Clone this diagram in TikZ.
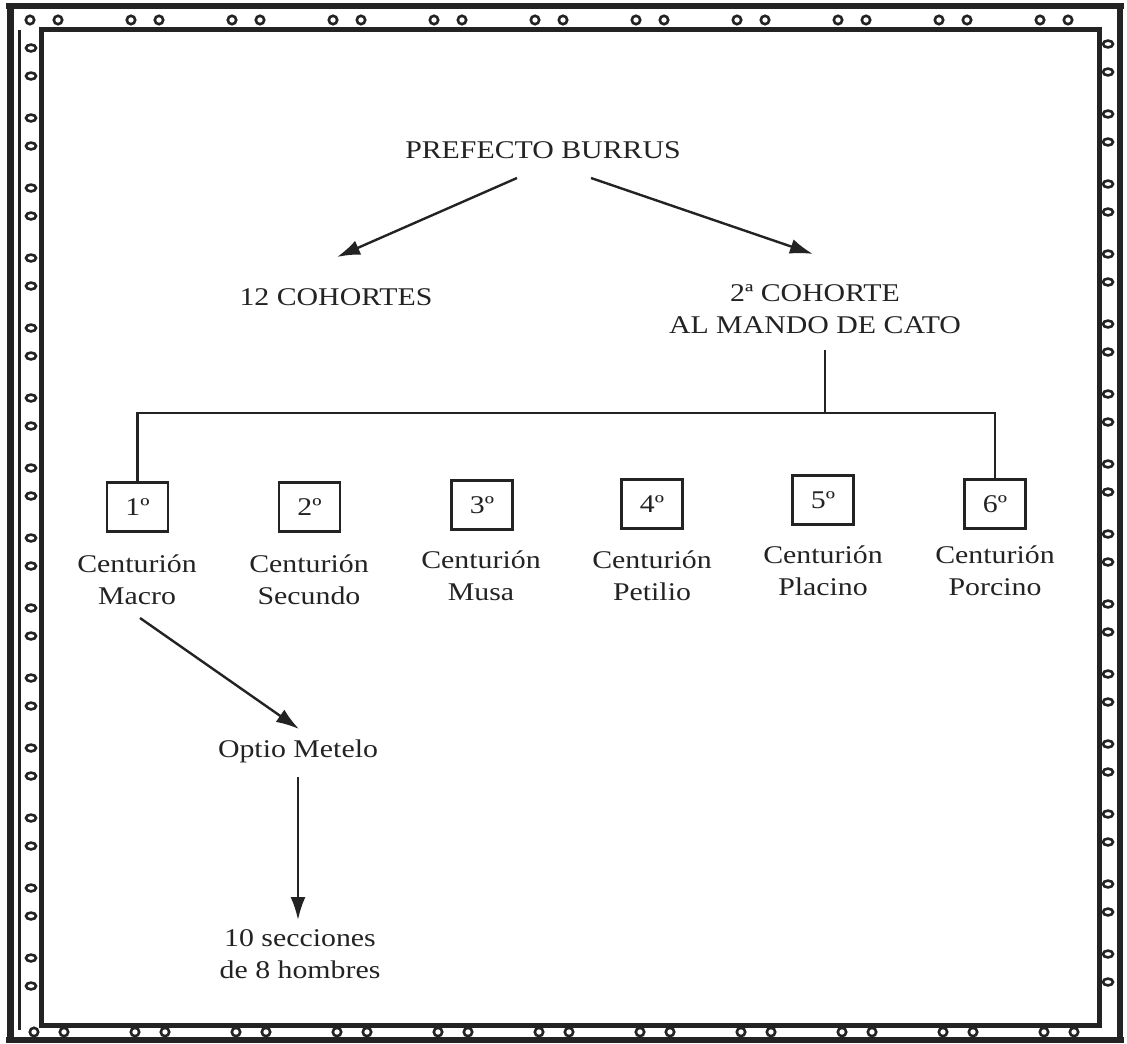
\documentclass[tikz,border=0pt]{standalone}
\usepackage{fontspec}
\setmainfont[FakeStretch=1.17]{Liberation Serif}
\usetikzlibrary{arrows.meta}
\definecolor{ink}{HTML}{232323}
\begin{document}
\begin{tikzpicture}[x=1pt,y=-1pt,
  lbl/.style={font=\fontsize{25.5}{32}\selectfont, text=ink, align=center, inner sep=0pt},
  numbox/.style={draw=ink, line width=2.2pt, minimum width=61pt, minimum height=49pt, inner sep=0pt, font=\fontsize{25.5}{30}\selectfont, text=ink},
  conn/.style={draw=ink, line width=2.4pt},
  arr/.style={conn, -{Latex[length=23pt,width=15pt]}},
  ring/.style={draw=ink, line width=2.6pt},
  framein/.style={draw=ink, line width=5pt},
  frameout/.style={draw=ink, line width=5.5pt}]
\useasboundingbox[fill=white] (0,0) rectangle (1127,1044);

% ---- decorative frame ----
\draw[framein] (41,29) rectangle (1099,1025);
\draw[frameout] (6,6) -- (1124,6);
\draw[frameout] (6,1040) -- (1124,1040);
\draw[draw=ink, line width=7pt] (10,6) -- (10,1040);
\draw[draw=ink, line width=3pt] (19,30) -- (19,1030);
\draw[draw=ink, line width=6pt] (1120,6) -- (1120,1040);
\foreach \i in {0,...,10}{
  \draw[ring] ({30+101*\i},20) circle[radius=4.2pt];
  \draw[ring] ({58+101*\i},20) circle[radius=4.2pt];
}
\foreach \i in {0,...,10}{
  \draw[ring] ({34+101*\i},1032) circle[radius=4.2pt];
  \draw[ring] ({64+101*\i},1032) circle[radius=4.2pt];
}
\foreach \i in {0,...,13}{
  \draw[ring] (31,{48+70*\i}) ellipse[x radius=5pt, y radius=3.4pt];
  \draw[ring] (31,{76+70*\i}) ellipse[x radius=5pt, y radius=3.4pt];
}
\foreach \i in {0,...,13}{
  \draw[ring] (1108,{44+70*\i}) ellipse[x radius=5pt, y radius=3.4pt];
  \draw[ring] (1108,{72+70*\i}) ellipse[x radius=5pt, y radius=3.4pt];
}

% ---- nodes ----
\node[lbl] (burrus) at (543,150) {PREFECTO BURRUS};
\node[lbl] (coh12) at (336,297) {12 COHORTES};
\node[lbl] (cato) at (815,309) {2ª COHORTE\\AL MANDO DE CATO};

\node[numbox] (b1) at (137.5,507) {1º};
\node[numbox] (b2) at (309.5,507) {2º};
\node[numbox] (b3) at (482,505) {3º};
\node[numbox] (b4) at (652,504) {4º};
\node[numbox] (b5) at (823,500) {5º};
\node[numbox] (b6) at (995,504) {6º};

\node[lbl] (c1) at (137,580) {Centurión\\Macro};
\node[lbl] (c2) at (309,580) {Centurión\\Secundo};
\node[lbl] (c3) at (481,576) {Centurión\\Musa};
\node[lbl] (c4) at (652,576) {Centurión\\Petilio};
\node[lbl] (c5) at (823,571) {Centurión\\Placino};
\node[lbl] (c6) at (995,571) {Centurión\\Porcino};

\node[lbl] (optio) at (298,751) {Optio Metelo};
\node[lbl] (secc) at (300,954) {10 secciones\\de 8 hombres};

% ---- connector end points ----
\coordinate (bL) at (517,178);
\coordinate (bR) at (591,178);
\coordinate (cohTip) at (337,257);
\coordinate (catoTip) at (813,254);
\coordinate (catoDrop) at (825,350);
\coordinate (junc) at (825,413);
\coordinate (macroOut) at (140,618);
\coordinate (optioTip) at (299,729);
\coordinate (optioOut) at (298,777);
\coordinate (seccTip) at (298,920);

% ---- connectors ----
\draw[arr] (bL) -- (cohTip);
\draw[arr] (bR) -- (catoTip);
\draw[conn] (catoDrop) -- (junc);
\draw[conn] (junc) -| (b1.north);
\draw[conn] (junc) -| (b6.north);
\draw[arr] (macroOut) -- (optioTip);
\draw[arr] (optioOut) -- (seccTip);
\end{tikzpicture}
\end{document}
